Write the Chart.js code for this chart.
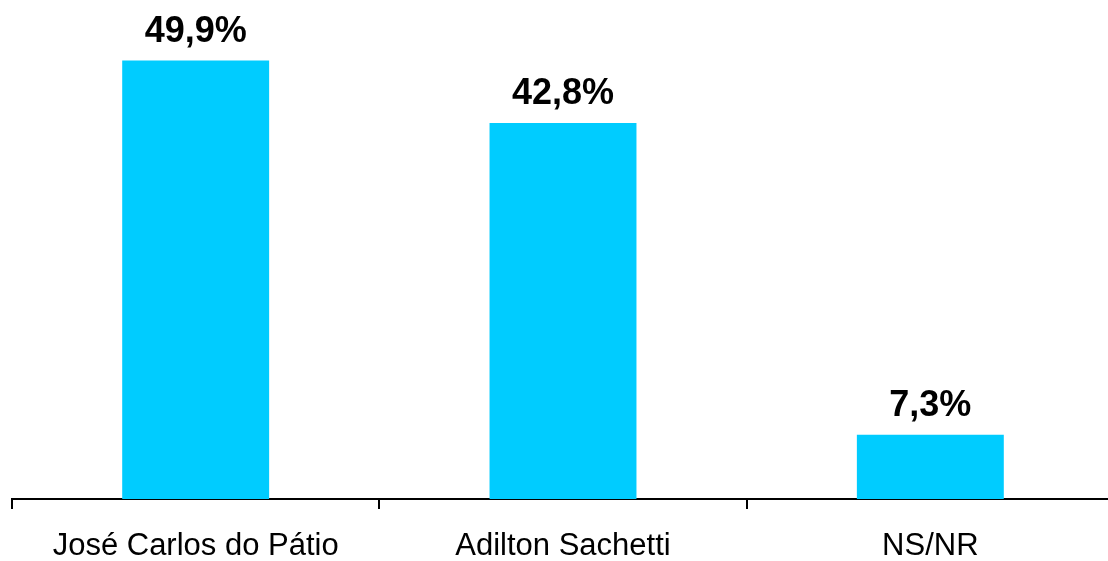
<!DOCTYPE html>
<html>
<head>
<meta charset="utf-8">
<script src="https://cdn.jsdelivr.net/npm/chart.js@4"></script>
<style>
  html, body { margin: 0; padding: 0; background: #fff; overflow: hidden; }
  #wrap { width: 1114px; height: 561px; }
</style>
</head>
<body>
<div id="wrap"><canvas id="chart" width="1114" height="561"></canvas></div>
<script>
const categories = ["José Carlos do Pátio", "Adilton Sachetti", "NS/NR"];
const values = [49.9, 42.8, 7.3];
const valueLabels = ["49,9%", "42,8%", "7,3%"];

// draw the percentage above each bar
const valueLabelPlugin = {
  id: "valueLabels",
  afterDatasetsDraw(chart) {
    const ctx = chart.ctx;
    const meta = chart.getDatasetMeta(0);
    ctx.save();
    ctx.font = "bold 36px 'Liberation Sans', Arial, sans-serif";
    ctx.fillStyle = "#000";
    ctx.textAlign = "center";
    ctx.textBaseline = "middle";
    meta.data.forEach(function (bar, i) {
      ctx.fillText(valueLabels[i], bar.x, bar.y - 29);
    });
    ctx.restore();
  },
};

const ctx = document.getElementById("chart").getContext("2d");
new Chart(ctx, {
  type: "bar",
  data: {
    labels: categories,
    datasets: [
      {
        data: values,
        backgroundColor: "#00CCFF",
        barPercentage: 0.4,
        categoryPercentage: 1,
      },
    ],
  },
  options: {
    responsive: false,
    animation: false,
    layout: { padding: { left: 12, right: 0, top: 7, bottom: 0 } },
    plugins: {
      legend: { display: false },
      tooltip: { enabled: false },
    },
    scales: {
      x: {
        afterFit(scale) {
          scale.height = 62;
        },
        border: { display: true, color: "#000", width: 2 },
        grid: {
          display: true,
          drawOnChartArea: false,
          drawTicks: true,
          tickLength: 10,
          color: "#000",
          lineWidth: 2,
          offset: true,
        },
        ticks: {
          color: "#000",
          padding: 19,
          maxRotation: 0,
          font: { family: "'Liberation Sans', Arial, sans-serif", size: 31 },
        },
      },
      y: {
        display: false,
        min: 0,
        max: 56,
      },
    },
  },
  plugins: [valueLabelPlugin],
});
</script>
</body>
</html>
